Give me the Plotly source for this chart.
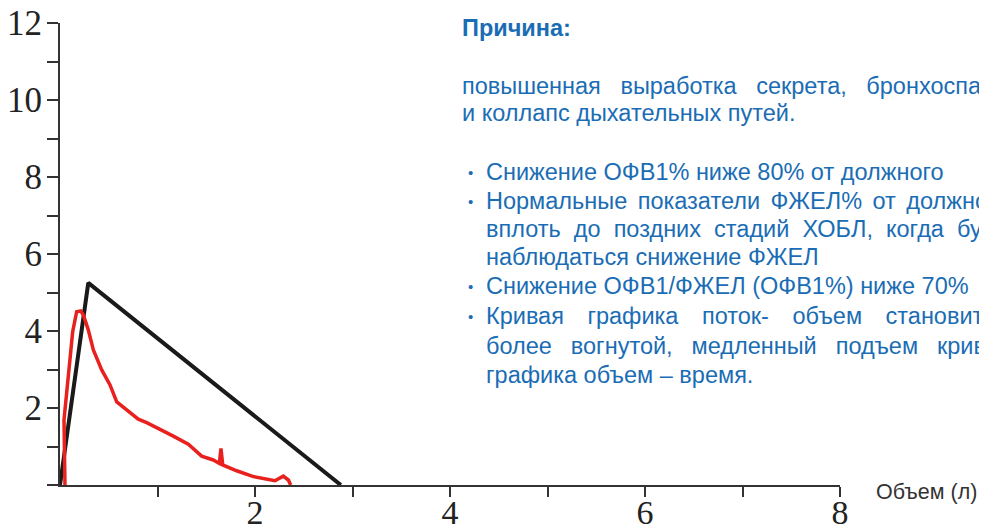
import plotly.graph_objects as go

# Data
normal_x = [0.0, 0.29, 2.88]
normal_y = [0.0, 5.25, 0.0]

copd_x = [0.051, 0.041, 0.130, 0.171, 0.212, 0.239, 0.290, 0.342, 0.428, 0.513, 0.582,
          0.684, 0.803, 0.889, 1.026, 1.162, 1.316, 1.453, 1.572, 1.634, 1.651, 1.669,
          1.812, 1.983, 2.205, 2.290, 2.342, 2.366]
copd_y = [0.0, 1.69, 3.98, 4.50, 4.52, 4.42, 4.03, 3.51, 2.99, 2.60, 2.16,
          1.95, 1.71, 1.62, 1.45, 1.27, 1.06, 0.75, 0.65, 0.56, 0.95, 0.52,
          0.37, 0.22, 0.11, 0.23, 0.13, 0.0]

x_tickvals = [1, 2, 3, 4, 5, 6, 7, 8]
x_ticktext = ["", "2", "", "4", "", "6", "", "8"]
y_tickvals = list(range(0, 13))
y_ticktext = ["", "", "2", "", "4", "", "6", "", "8", "", "10", "", "12"]

x_title = "Объем (л)"
heading = "Причина:"
NB = "\u00a0"
SIX = "\u2006"
HAIR = "\u200a"
para_lines = [
    (NB * 3).join(["повышенная", "выработка", "секрета,", "бронхоспа"]),
    "и коллапс дыхательных путей.",
]
bullet_lines = [
    (True, "Снижение ОФВ1% ниже 80% от должного"),
    (True, (NB + SIX).join(["Нормальные", "показатели", "ФЖЕЛ%", "от", "должно"])),
    (False, (NB * 2).join(["вплоть", "до", "поздних", "стадий", "ХОБЛ,", "когда", "буд"])),
    (False, "наблюдаться снижение ФЖЕЛ"),
    (True, "Снижение ОФВ1/ФЖЕЛ (ОФВ1%) ниже 70%"),
    (True, (NB * 3 + SIX).join(["Кривая", "графика", "поток-", "объем", "становит"])),
    (False, (NB * 2 + SIX + HAIR).join(["более", "вогнутой,", "медленный", "подъем", "крив"])),
    (False, "графика объем – время."),
]

# page body has an 8px margin; work in screen pixels and convert
OFF = 8
W, H = 987 - OFF, 531 - OFF
X0, X1, Y0, Y1 = 60, 840, 23, 485      # plot area in screen px
L, T = X0 - OFF, Y0 - OFF
R, B = W - (X1 - OFF), H - (Y1 - OFF)
pw, ph = X1 - X0, Y1 - Y0

def px(xs):
    return (xs - X0) / pw

def py(ys):
    return (Y1 - ys) / ph

blue = "#1a6db4"
sans = "Liberation Sans, Arial, sans-serif"
serif = "Liberation Serif, Times New Roman, serif"
BODY = 23.5

fig = go.Figure()
fig.add_trace(go.Scatter(x=normal_x, y=normal_y, mode="lines",
                         line=dict(color="#1a1a1a", width=4), cliponaxis=False,
                         showlegend=False, hoverinfo="skip"))
fig.add_trace(go.Scatter(x=copd_x, y=copd_y, mode="lines",
                         line=dict(color="#e8201e", width=3.5), cliponaxis=False,
                         showlegend=False, hoverinfo="skip"))

ann = []
ann.append(dict(x=px(460), y=py(28), xref="paper", yref="paper", text="<b>" + heading + "</b>",
                showarrow=False, xanchor="left", yanchor="middle",
                font=dict(family=sans, size=23.5, color=blue)))
para_y = [86, 113]
for t, yy in zip(para_lines, para_y):
    ann.append(dict(x=px(460), y=py(yy), xref="paper", yref="paper", text=t,
                    showarrow=False, xanchor="left", yanchor="middle",
                    font=dict(family=sans, size=BODY, color=blue)))
bullet_y = [172, 201, 229, 257, 286, 316, 346, 375]
for (isb, t), yy in zip(bullet_lines, bullet_y):
    if isb:
        ann.append(dict(x=px(470), y=py(yy), xref="paper", yref="paper", text="•",
                        showarrow=False, xanchor="center", yanchor="middle",
                        font=dict(family=sans, size=15, color=blue)))
    ann.append(dict(x=px(484), y=py(yy), xref="paper", yref="paper", text=t,
                    showarrow=False, xanchor="left", yanchor="middle",
                    font=dict(family=sans, size=BODY, color=blue)))
ann.append(dict(x=px(874), y=py(492), xref="paper", yref="paper", text=x_title,
                showarrow=False, xanchor="left", yanchor="middle",
                font=dict(family=sans, size=21.5, color="#333333")))

fig.update_layout(
    template="none",
    width=W, height=H,
    margin=dict(l=L, r=R, t=T, b=B, pad=0),
    paper_bgcolor="white", plot_bgcolor="white",
    annotations=ann,
    xaxis=dict(range=[0, 8], tickvals=x_tickvals, ticktext=x_ticktext,
               ticks="outside", ticklen=10, tickwidth=2, tickcolor="#333333",
               showline=True, linecolor="#333333", linewidth=2,
               showgrid=False, zeroline=False, automargin=False,
               ticklabeloverflow="allow", ticklabelstandoff=-14,
               tickfont=dict(family=serif, size=34, color="#222222")),
    yaxis=dict(range=[0, 12], tickvals=y_tickvals, ticktext=y_ticktext,
               ticks="outside", ticklen=11, tickwidth=2, tickcolor="#333333",
               showline=True, linecolor="#333333", linewidth=2,
               showgrid=False, zeroline=False, automargin=False,
               ticklabeloverflow="allow", ticklabelstandoff=-2,
               tickfont=dict(family=serif, size=35, color="#222222")),
)

fig.write_html("out.html")
